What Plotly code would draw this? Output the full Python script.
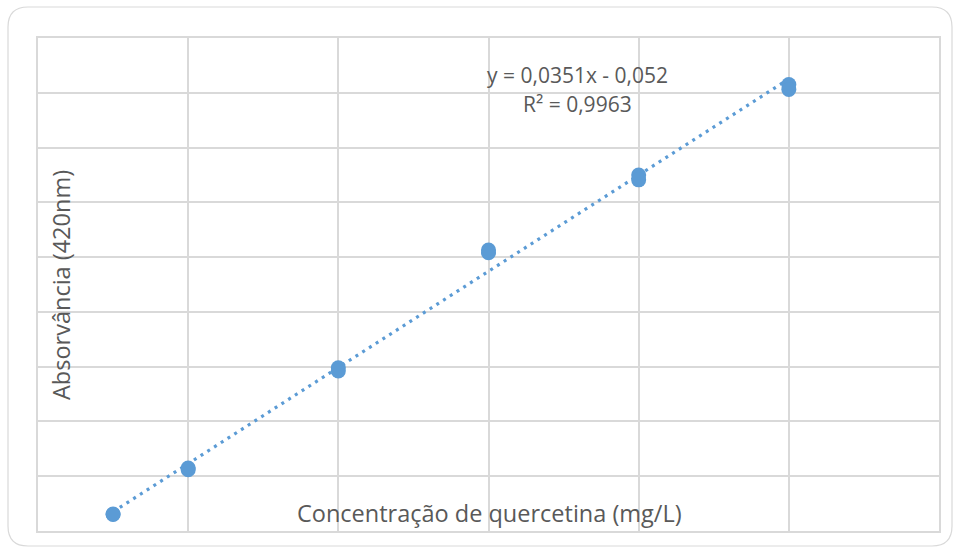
import numpy as np
import plotly.graph_objects as go

# Data (replicate readings)
conc = [2.5, 2.5, 5, 5, 10, 10, 15, 15, 20, 20, 25, 25]
absorb = [0.030, 0.031, 0.112, 0.115, 0.298, 0.292, 0.513, 0.508, 0.650, 0.641, 0.815, 0.806]
eq_text = "y = 0,0351x - 0,052"
r2_text = "R² = 0,9963"
x_title = "Concentração de quercetina (mg/L)"
y_title = "Absorvância (420nm)"

slope, intercept = np.polyfit(conc, absorb, 1)
fit_x = [min(conc), max(conc)]
fit_y = [slope * v + intercept for v in fit_x]

BLUE = "#5B9BD5"
GRID = "#D9D9D9"
TXT = "#595959"
FONT = "Open Sans"

W, H = 960, 553
ML, MR, MT, MB = 38, 21, 38, 22
PW, PH = W - ML - MR, H - MT - MB

def px(xp):
    return (xp - ML) / PW

def py(yp):
    return (H - MB - yp) / PH

fig = go.Figure()
fig.add_trace(go.Scatter(
    x=fit_x, y=fit_y, mode="lines",
    line=dict(color=BLUE, width=3.2, dash="3px,5px"),
    hoverinfo="skip", showlegend=False,
))
fig.add_trace(go.Scatter(
    x=conc, y=absorb, mode="markers",
    marker=dict(color=BLUE, size=15, line=dict(width=0)),
    showlegend=False,
))

# outer rounded border
l, t, r, b, rad = 8, 7, 952, 546, 20
path = (
    f"M {px(l+rad)},{py(t)} L {px(r-rad)},{py(t)} "
    f"Q {px(r)},{py(t)} {px(r)},{py(t+rad)} "
    f"L {px(r)},{py(b-rad)} Q {px(r)},{py(b)} {px(r-rad)},{py(b)} "
    f"L {px(l+rad)},{py(b)} Q {px(l)},{py(b)} {px(l)},{py(b-rad)} "
    f"L {px(l)},{py(t+rad)} Q {px(l)},{py(t)} {px(l+rad)},{py(t)} Z"
)
fig.add_shape(type="path", xref="paper", yref="paper", path=path,
              line=dict(color=GRID, width=1.2), layer="below")

def label(xp, yp, text, size, angle=0):
    fig.add_annotation(x=px(xp), y=py(yp), xref="paper", yref="paper",
                       xanchor="center", yanchor="middle",
                       text=text, showarrow=False, textangle=angle,
                       font=dict(family=FONT, size=size, color=TXT))

label(577, 75, eq_text, 21)
label(577, 104, r2_text, 21)
label(489, 513, x_title, 23.5)
label(61, 285, y_title, 23.5, -90)

fig.update_layout(
    width=W, height=H,
    margin=dict(l=ML, r=MR, t=MT, b=MB),
    paper_bgcolor="white", plot_bgcolor="white",
    xaxis=dict(range=[0, 30], dtick=5, showticklabels=False, ticks="",
               showgrid=True, gridcolor=GRID, gridwidth=1.6,
               zeroline=False, showline=True, mirror=True,
               linecolor=GRID, linewidth=1.6, fixedrange=True),
    yaxis=dict(range=[0, 0.9], dtick=0.1, showticklabels=False, ticks="",
               showgrid=True, gridcolor=GRID, gridwidth=1.6,
               zeroline=False, showline=True, mirror=True,
               linecolor=GRID, linewidth=1.6, fixedrange=True),
    font=dict(family=FONT, color=TXT),
)

fig.write_html("out.html")
